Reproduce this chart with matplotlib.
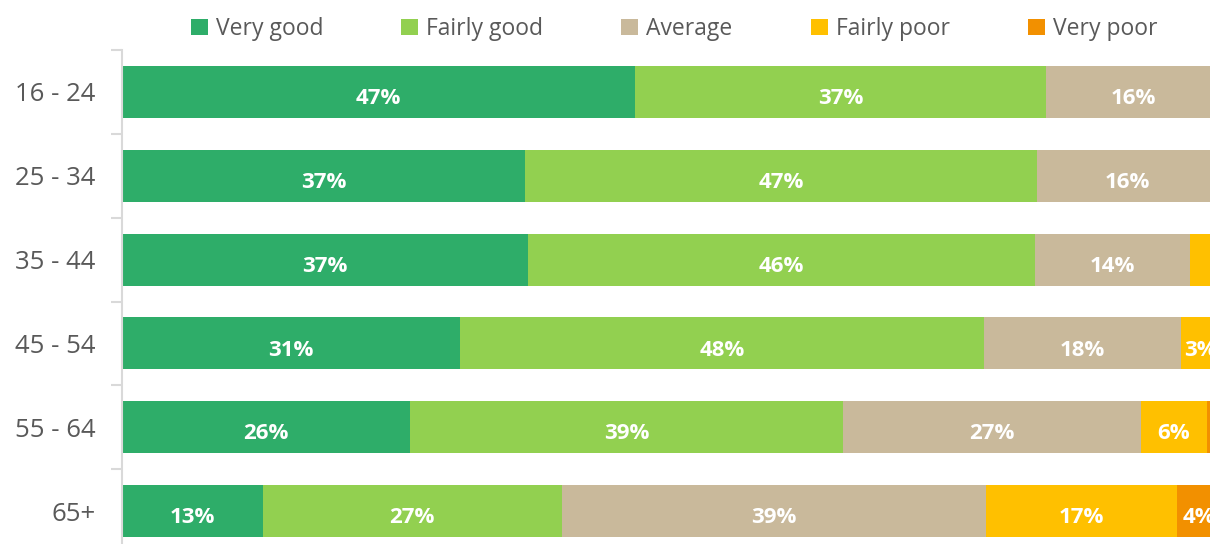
import matplotlib
matplotlib.use("Agg")
import matplotlib.pyplot as plt
from matplotlib.transforms import ScaledTranslation
import numpy as np

plt.rcParams['font.family'] = ['Open Sans', 'DejaVu Sans']

ages = ['16 - 24', '25 - 34', '35 - 44', '45 - 54', '55 - 64', '65+']
series = ['Very good', 'Fairly good', 'Average', 'Fairly poor', 'Very poor']
# shares in % (labels show them rounded)
very_good = [46.7, 36.7, 36.9, 30.8, 26.2, 12.8]
fairly_good = [37.4, 46.6, 46.2, 47.6, 39.4, 27.2]
average = [15.9, 16.4, 14.1, 18.0, 27.1, 38.6]
fairly_poor = [0, 0, 2.8, 3.4, 6.0, 17.4]
very_poor = [0, 0, 0, 0.2, 1.3, 4.0]
colors = ['#2EAD69', '#92D050', '#C9B99B', '#FFC000', '#F29000']

values = np.array([very_good, fairly_good, average, fairly_poor, very_poor], dtype=float)

fig = plt.figure(figsize=(12.1, 5.44), dpi=100)
ax = fig.add_axes([122 / 1210, 1 - 553 / 544, 1099 / 1210, 503 / 544])

y = np.arange(len(ages))
left = np.zeros(len(ages))
for k, name in enumerate(series):
    ax.barh(y, values[k], left=left, height=0.62, color=colors[k], label=name)
    for i in range(len(ages)):
        v = values[k][i]
        if v >= 3:
            ax.text(left[i] + v / 2, y[i] + 0.08, f'{v:.0f}%', ha='center', va='center',
                    color='white', fontsize=16, fontweight='bold')
    left += values[k]

ax.set_xlim(0, 100)
ax.set_ylim(len(ages) - 0.5, -0.5)
ax.set_xticks([])
ax.set_yticks(y)
ax.set_yticklabels(ages, fontsize=18.5, color='#595959')
shift = ScaledTranslation(0, -6 / 100, fig.dpi_scale_trans)
for lab in ax.get_yticklabels():
    lab.set_transform(lab.get_transform() + shift)
ax.set_yticks(np.arange(len(ages) + 1) - 0.5, minor=True)
ax.tick_params(axis='y', which='major', length=0, pad=19)
ax.tick_params(axis='y', which='minor', length=8, color='#D9D9D9', width=1.5)
for s in ['top', 'right', 'bottom']:
    ax.spines[s].set_visible(False)
ax.spines['left'].set_color('#D9D9D9')
ax.spines['left'].set_linewidth(1.5)

leg = fig.legend(loc='center', bbox_to_anchor=(674 / 1210, 1 - 29 / 544), ncol=5,
                 frameon=False, fontsize=16.5, handlelength=0.75, handleheight=0.75,
                 handletextpad=0.35, columnspacing=3.4)
for t in leg.get_texts():
    t.set_color('#595959')

fig.savefig('out.png', dpi=100)
